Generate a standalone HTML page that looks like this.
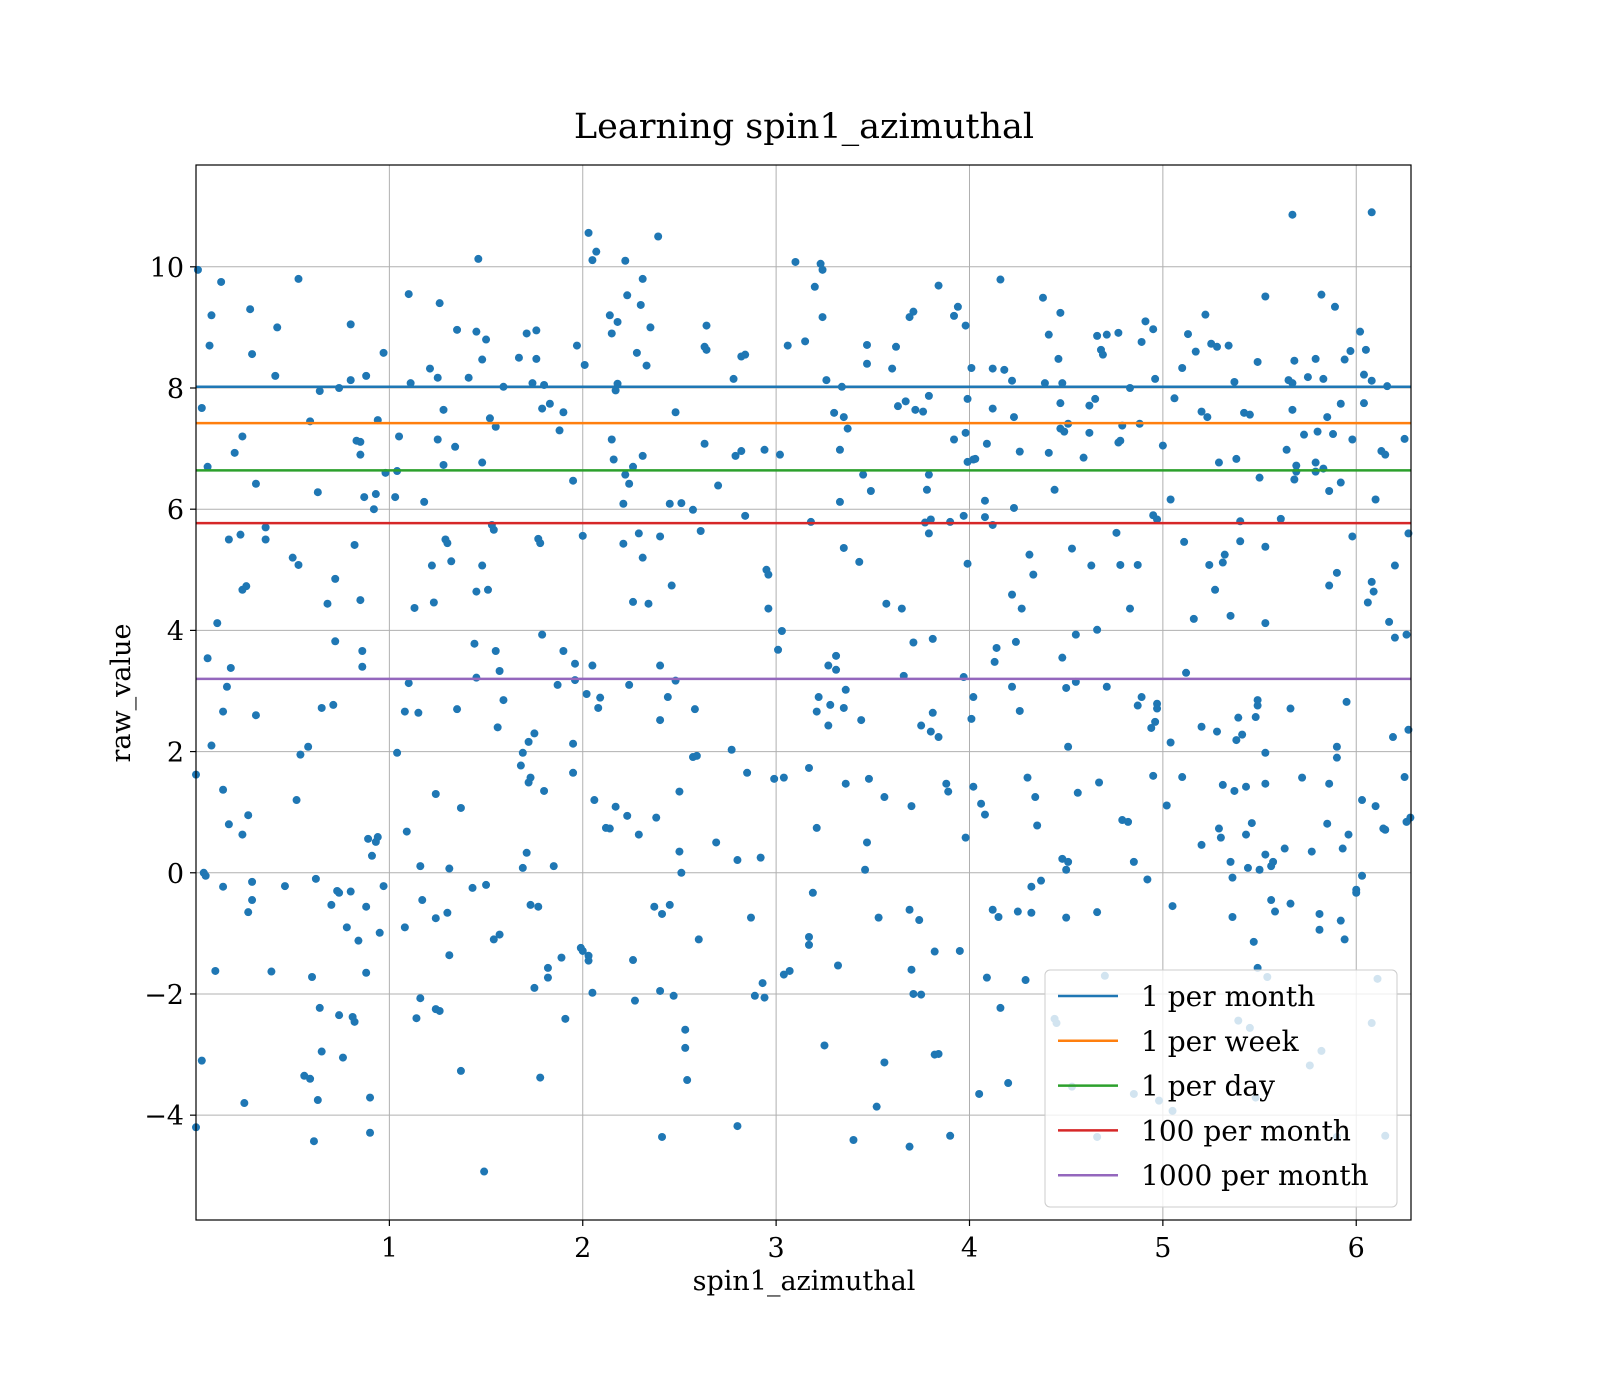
<!DOCTYPE html>
<html><head><meta charset="utf-8"><title>Learning spin1_azimuthal</title>
<style>
html,body{margin:0;padding:0;background:#fff;}
svg{display:block;font-family:"DejaVu Serif","Liberation Serif",serif;}
</style></head>
<body>
<svg id="chart" width="1600" height="1400" viewBox="0 0 1600 1400" xmlns="http://www.w3.org/2000/svg">
<rect x="0" y="0" width="1600" height="1400" fill="#fff"/>
<text x="804" y="138" font-size="35" text-anchor="middle" fill="#000">Learning spin1_azimuthal</text>
<g id="grid"></g>
<g id="points"></g>
<g id="hlines"></g>
<rect x="196" y="165" width="1215" height="1055" fill="none" stroke="#000" stroke-width="1.2"/>
<g id="ticks"></g>
<text x="804" y="1290" font-size="27" text-anchor="middle">spin1_azimuthal</text>
<text transform="translate(130,693) rotate(-90)" font-size="27" text-anchor="middle">raw_value</text>
<g id="legend"></g>
</svg>
<script>
const xTicks = [1, 2, 3, 4, 5, 6];
const yTicks = [-4, -2, 0, 2, 4, 6, 8, 10];
const yTickLabels = ["\u22124", "\u22122", "0", "2", "4", "6", "8", "10"];
const lineLabels = ["1 per month", "1 per week", "1 per day", "100 per month", "1000 per month"];
const lineValues = [8.02, 7.42, 6.64, 5.77, 3.2];
const lineColors = ["#1f77b4", "#ff7f0e", "#2ca02c", "#d62728", "#9467bd"];
const xs = [0.01,0.03,0.06,0.07,0.08,0.13,0.11,0.06,0.08,0,0.04,0.05,0.1,0.03,0,0.14,0.16,0.14,0.17,0.14,0.17,0.18,0.2,0.24,0.23,0.24,0.26,0.29,0.28,0.24,0.27,0.29,0.27,0.29,0.25,0.31,0.31,0.36,0.36,0.39,0.41,0.42,0.46,0.5,0.53,0.53,0.52,0.54,0.58,0.59,0.56,0.59,0.6,0.61,0.63,0.63,0.64,0.64,0.65,0.65,0.62,0.68,0.7,0.71,0.72,0.72,0.73,0.74,0.74,0.74,0.76,0.78,0.8,0.8,0.8,0.81,0.82,0.82,0.83,0.85,0.84,0.85,0.85,0.86,0.86,0.87,0.88,0.88,0.88,0.89,0.9,0.9,0.92,0.91,0.93,0.94,0.93,0.94,0.95,0.97,0.97,0.98,1.03,1.04,1.04,1.05,1.08,1.08,1.09,1.1,1.1,1.11,1.13,1.14,1.15,1.16,1.16,1.17,1.18,1.21,1.22,1.23,1.24,1.24,1.24,1.25,1.25,1.26,1.26,1.28,1.28,1.29,1.3,1.3,1.31,1.31,1.32,1.34,1.35,1.35,1.37,1.37,1.41,1.43,1.44,1.45,1.45,1.45,1.46,1.48,1.48,1.48,1.49,1.5,1.5,1.51,1.52,1.53,1.54,1.54,1.55,1.55,1.56,1.57,1.57,1.59,1.59,
1.67,1.68,1.69,1.69,1.71,1.71,1.72,1.72,1.73,1.73,1.74,1.75,1.75,1.76,1.76,1.77,1.78,1.77,1.78,1.79,1.79,1.8,1.8,1.82,1.83,1.82,1.85,1.87,1.88,1.89,1.9,1.9,1.91,1.95,1.95,1.95,1.96,1.96,1.97,1.99,2.0,2.0,2.01,2.02,2.03,2.03,2.03,2.05,2.05,2.05,2.06,2.07,2.08,2.09,2.12,2.14,2.14,2.15,2.15,2.16,2.17,2.17,2.18,2.18,2.21,2.21,2.22,2.22,2.23,2.23,2.24,2.24,2.26,2.26,2.26,2.27,2.28,2.29,2.29,2.3,2.31,2.31,2.31,2.33,2.34,2.35,2.37,2.38,2.39,2.4,2.4,2.4,2.41,2.41,2.4,2.44,2.45,2.46,2.45,2.47,2.48,2.48,2.5,2.5,2.51,2.51,2.53,2.53,2.54,2.57,2.57,2.58,2.59,2.6,2.61,2.63,2.63,2.64,2.64,
2.69,2.7,2.77,2.78,2.79,2.8,2.8,2.82,2.82,2.84,2.84,2.85,2.87,2.89,2.92,2.93,2.94,2.94,2.95,2.96,2.96,2.99,3.01,3.02,3.03,3.04,3.04,3.06,3.07,3.1,3.15,3.17,3.17,3.17,3.18,3.19,3.2,3.21,3.21,3.22,3.23,3.24,3.24,3.25,3.26,3.27,3.27,3.28,3.3,3.31,3.31,3.32,3.33,3.33,3.34,3.35,3.35,3.36,3.36,3.35,3.37,3.4,3.43,3.44,3.45,3.46,3.47,3.47,3.47,3.48,3.49,3.52,3.53,3.56,3.56,3.57,
3.6,3.62,3.63,3.65,3.66,3.67,3.69,3.69,3.69,3.7,3.7,3.71,3.71,3.71,3.72,3.74,3.75,3.75,3.76,3.77,3.78,3.79,3.79,3.79,3.8,3.8,3.81,3.81,3.82,3.82,3.84,3.84,3.84,3.88,3.89,3.9,3.9,3.92,3.92,3.94,3.95,3.97,3.97,3.98,3.98,3.98,3.99,3.99,3.99,4.01,4.01,4.02,4.02,4.02,4.03,4.05,4.06,4.08,4.08,4.08,4.09,4.09,4.12,4.12,4.12,4.12,4.13,4.14,4.15,4.16,4.16,4.18,4.2,4.22,4.22,4.22,4.23,4.23,4.24,4.25,4.26,4.26,4.27,4.29,4.3,4.31,4.32,4.32,4.33,4.34,4.35,4.37,4.38,4.39,4.41,4.41,4.44,4.44,4.45,4.46,4.47,4.47,4.47,4.48,4.48,4.48,4.49,4.5,4.5,4.5,4.51,4.51,4.51,4.53,4.53,4.55,4.55,4.56,
4.59,4.62,4.62,4.63,4.65,4.66,4.66,4.66,4.66,4.67,4.68,4.69,4.7,4.71,4.71,4.76,4.77,4.77,4.78,4.78,4.79,4.79,4.82,4.83,4.83,4.85,4.85,4.87,4.87,4.88,4.89,4.89,4.91,4.92,4.94,4.95,4.95,4.95,4.96,4.96,4.97,4.97,4.97,4.98,5.0,5.02,5.04,5.04,5.05,5.05,5.06,5.1,5.1,5.11,5.12,5.13,5.16,5.17,5.2,5.2,5.2,5.22,5.23,5.24,5.25,5.27,5.28,5.28,5.29,5.29,5.3,5.31,5.31,5.32,5.34,5.35,5.35,5.36,5.36,5.37,5.37,5.38,5.38,5.39,5.39,5.4,5.4,5.41,5.42,5.43,5.43,5.44,5.45,5.45,5.46,5.47,5.48,5.48,5.49,5.49,5.49,5.49,5.5,5.5,5.53,5.53,5.53,5.53,5.53,5.53,5.54,5.56,5.56,5.57,5.58,
5.61,5.63,5.64,5.65,5.66,5.66,5.67,5.67,5.67,5.68,5.68,5.69,5.69,5.72,5.73,5.75,5.76,5.77,5.79,5.79,5.79,5.8,5.81,5.81,5.82,5.82,5.83,5.83,5.85,5.85,5.86,5.86,5.86,5.88,5.89,5.9,5.9,5.9,5.9,5.92,5.92,5.92,5.93,5.94,5.94,5.95,5.96,5.97,5.98,5.98,6.0,6.0,6.02,6.03,6.03,6.04,6.04,6.05,6.06,6.08,6.08,6.08,6.08,6.09,6.1,6.1,6.11,6.13,6.14,6.15,6.15,6.15,6.16,6.17,6.19,6.2,6.2,6.25,6.25,6.26,6.26,6.27,6.27,6.28];
const ys = [9.95,7.67,6.7,8.7,9.2,9.75,4.12,3.54,2.1,1.62,0.0,-0.05,-1.62,-3.1,-4.2,2.66,3.07,1.37,0.8,-0.23,5.5,3.38,6.93,7.2,5.58,4.67,4.73,8.56,9.3,0.63,0.95,-0.15,-0.65,-0.45,-3.8,6.42,2.6,5.7,5.5,-1.63,8.2,9.0,-0.22,5.2,9.8,5.08,1.2,1.95,2.08,7.45,-3.35,-3.4,-1.72,-4.43,6.28,-3.75,7.95,-2.23,2.72,-2.95,-0.1,4.44,-0.53,2.77,4.85,3.82,-0.3,-0.33,8.0,-2.35,-3.05,-0.9,9.05,-0.31,8.13,-2.38,-2.46,5.41,7.13,7.11,-1.12,4.5,6.9,3.66,3.4,6.2,-0.56,-1.65,8.2,0.56,-3.71,-4.29,6.0,0.28,0.51,0.59,6.25,7.47,-0.99,8.58,-0.22,6.6,6.2,6.63,1.98,7.2,-0.9,2.66,0.68,3.13,9.55,8.08,4.37,-2.4,2.64,-2.07,0.11,-0.45,6.12,8.32,5.07,4.46,-2.25,1.3,-0.75,7.15,8.17,-2.28,9.4,7.64,6.73,5.5,-0.66,5.44,0.07,-1.36,5.14,7.03,8.96,2.7,1.07,-3.27,8.17,-0.25,3.78,4.64,8.93,3.22,10.13,6.77,8.47,5.07,-4.93,-0.2,8.8,4.67,7.5,5.74,-1.1,5.66,7.36,3.66,2.4,-1.02,3.33,2.85,8.02,
8.5,1.77,0.08,1.98,8.9,0.33,2.16,1.49,1.57,-0.53,8.08,2.3,-1.9,8.95,8.48,5.51,5.44,-0.56,-3.38,7.66,3.93,8.05,1.35,-1.57,7.74,-1.73,0.11,3.1,7.3,-1.4,7.6,3.66,-2.41,6.47,1.65,2.13,3.45,3.18,8.7,-1.24,-1.29,5.56,8.38,2.95,10.56,-1.37,-1.45,10.11,-1.98,3.42,1.2,10.25,2.72,2.89,0.74,9.2,0.73,8.9,7.15,6.82,1.09,7.96,8.07,9.09,5.43,6.09,10.1,6.57,9.53,0.94,3.1,6.42,-1.44,4.47,6.7,-2.11,8.58,5.6,0.63,9.37,9.8,6.88,5.2,8.37,4.44,9.0,-0.56,0.91,10.5,3.42,2.52,5.55,-0.68,-4.36,-1.95,2.9,6.09,4.74,-0.53,-2.03,7.6,3.17,1.34,0.35,0.0,6.1,-2.89,-2.59,-3.42,5.99,1.91,2.7,1.93,-1.1,5.64,7.08,8.68,8.63,9.03,
0.5,6.39,2.03,8.15,6.88,0.21,-4.18,6.96,8.52,8.55,5.89,1.65,-0.74,-2.03,0.25,-1.82,6.98,-2.06,5.0,4.92,4.36,1.55,3.68,6.9,3.99,1.57,-1.68,8.7,-1.62,10.08,8.77,-1.06,-1.19,1.73,5.79,-0.33,9.67,0.74,2.66,2.9,10.05,9.95,9.17,-2.85,8.13,2.43,3.42,2.77,7.59,3.35,3.58,-1.53,6.98,6.12,8.02,5.36,7.52,1.47,3.02,2.72,7.33,-4.41,5.13,2.52,6.57,0.05,0.5,8.71,8.4,1.55,6.3,-3.86,-0.74,-3.13,1.25,4.44,
8.32,8.68,7.7,4.36,3.25,7.78,-0.61,-4.52,9.17,-1.6,1.1,3.8,9.26,-2.0,7.64,-0.78,-2.01,2.43,7.61,5.78,6.32,6.57,7.87,5.6,5.83,2.33,2.64,3.86,-1.3,-3.0,-2.99,9.69,2.24,1.47,1.34,-4.34,5.79,9.19,7.15,9.34,-1.29,5.89,3.23,9.03,0.58,7.26,7.82,5.1,6.78,8.33,2.54,2.9,6.82,1.42,6.83,-3.65,1.14,5.87,6.14,0.96,-1.73,7.08,-0.61,8.32,7.66,5.74,3.48,3.71,-0.73,-2.23,9.79,8.3,-3.47,8.12,4.59,3.07,7.52,6.02,3.81,-0.64,2.67,6.95,4.36,-1.77,1.57,5.25,-0.23,-0.66,4.92,1.25,0.78,-0.13,9.49,8.08,6.93,8.88,6.32,-2.41,-2.48,8.48,7.33,9.24,7.75,0.23,3.55,8.08,7.28,3.05,0.05,-0.74,0.18,2.08,7.41,5.35,-3.53,3.93,3.15,1.32,
6.85,7.26,7.71,5.07,7.82,-0.65,-4.36,4.01,8.86,1.49,8.63,8.55,-1.7,3.07,8.88,5.61,8.91,7.1,7.13,5.08,0.87,7.38,0.84,4.36,8.0,-3.65,0.18,2.76,5.08,7.41,8.76,2.9,9.1,-0.11,2.39,8.97,5.9,1.6,8.15,2.49,5.83,2.79,2.71,-3.76,7.05,1.11,2.15,6.16,-3.93,-0.55,7.83,1.58,8.33,5.46,3.3,8.89,4.19,8.6,0.46,2.41,7.61,9.21,7.52,5.08,8.73,4.67,2.33,8.68,6.77,0.73,0.58,1.45,5.12,5.25,8.7,4.24,0.18,-0.73,-0.08,1.35,8.1,2.19,6.83,-2.44,2.56,5.8,5.47,2.28,7.59,0.63,1.42,0.08,-2.56,7.56,0.82,-1.14,-3.71,2.57,2.76,8.43,-1.57,2.85,0.05,6.52,9.51,5.38,4.12,1.98,1.47,0.3,-1.72,-0.45,0.11,0.18,-0.64,
5.84,0.4,6.98,8.13,2.71,-0.51,10.86,8.08,7.64,8.45,6.49,6.72,6.62,1.57,7.23,8.18,-3.18,0.35,6.62,8.48,6.77,7.28,-0.94,-0.68,-2.94,9.54,8.15,6.67,7.52,0.81,6.3,4.74,1.47,7.24,9.34,1.9,2.08,4.95,-4.36,-0.79,6.44,7.74,0.4,-1.1,8.47,2.82,0.63,8.61,5.55,7.15,-0.28,-0.33,8.93,1.2,-0.05,8.22,7.75,8.63,4.46,8.12,4.8,10.9,-2.48,4.64,6.16,1.1,-1.75,6.96,0.73,0.71,6.9,-4.34,8.03,4.14,2.24,5.07,3.88,1.58,7.16,0.84,3.93,5.6,2.36,0.91];

const NS = "http://www.w3.org/2000/svg";
const L = 196, R = 1411, T = 165, B = 1220;
const xMin = 0, xMax = 6.2832, yMin = -5.73, yMax = 11.68;
function sx(v){ return L + (v - xMin) / (xMax - xMin) * (R - L); }
function sy(v){ return B - (v - yMin) / (yMax - yMin) * (B - T); }
function mk(tag, attrs, parent){
  const e = document.createElementNS(NS, tag);
  for (const k in attrs) e.setAttribute(k, attrs[k]);
  parent.appendChild(e);
  return e;
}
const grid = document.getElementById('grid');
const ticks = document.getElementById('ticks');
xTicks.forEach(function(v){
  const x = sx(v);
  const g = mk('line', {x1:x, x2:x, y1:T, y2:B, stroke:'#b0b0b0', 'stroke-width':1}, grid);
  
  
  const t = mk('line', {x1:x, x2:x, y1:B, y2:B+6, stroke:'#000', 'stroke-width':1.2}, ticks);
  
  
  const lb = mk('text', {x:x, y:B+37, 'font-size':27, 'text-anchor':'middle'}, ticks);
  lb.textContent = String(v);
  
  
});
yTicks.forEach(function(v, i){
  const y = sy(v);
  const g = mk('line', {x1:L, x2:R, y1:y, y2:y, stroke:'#b0b0b0', 'stroke-width':1}, grid);
  
  
  const t = mk('line', {x1:L-6, x2:L, y1:y, y2:y, stroke:'#000', 'stroke-width':1.2}, ticks);
  
  
  const lb = mk('text', {x:L-12, y:y+10, 'font-size':27, 'text-anchor':'end'}, ticks);
  lb.textContent = yTickLabels[i];
  
  
});
const pts = document.getElementById('points');
const n = Math.min(xs.length, ys.length);
for (let i = 0; i < n; i++){
  const c = mk('circle', {cx:sx(xs[i]), cy:sy(ys[i]), r:4, fill:'#1f77b4'}, pts);
  
  
}
const hl = document.getElementById('hlines');
lineValues.forEach(function(v, i){
  const y = sy(v);
  const l = mk('line', {x1:L, x2:R, y1:y, y2:y, stroke:lineColors[i], 'stroke-width':2.5}, hl);
  
  
});
const lg = document.getElementById('legend');
const box = mk('rect', {x:1045, y:970, width:352, height:237, rx:5, fill:'#fff', 'fill-opacity':0.8, stroke:'#cccccc', 'stroke-width':1}, lg);


lineLabels.forEach(function(s, i){
  const y = 996 + i * 44.8;
  const l = mk('line', {x1:1058, x2:1118, y1:y, y2:y, stroke:lineColors[i], 'stroke-width':2.5}, lg);
  
  
  const t = mk('text', {x:1141, y:y+10, 'font-size':28}, lg);
  t.textContent = s;
  
  
});
</script>
</body></html>
